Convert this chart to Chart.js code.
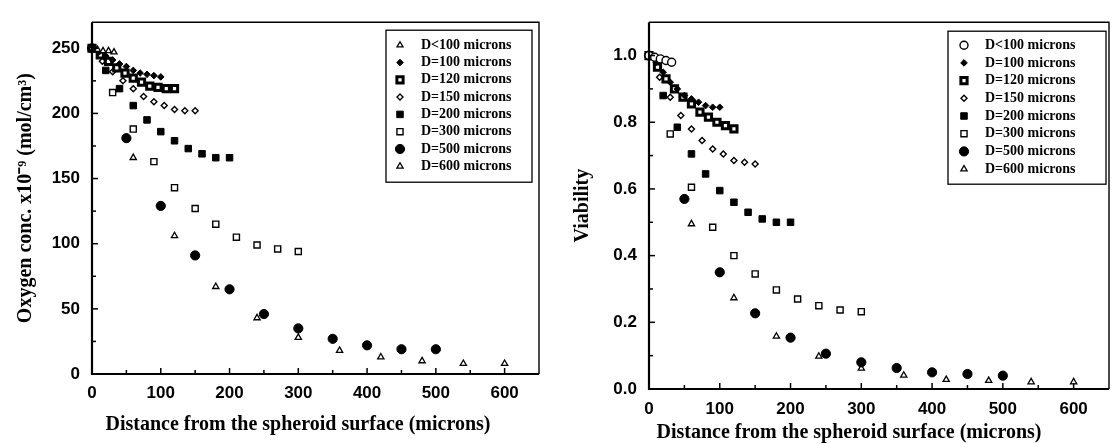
<!DOCTYPE html>
<html>
<head>
<meta charset="utf-8">
<script src="https://cdn.jsdelivr.net/npm/chart.js@4.4.1/dist/chart.umd.min.js"></script>
<style>
body{margin:0;background:#fff;}
#wrap{position:relative;width:1119px;height:443px;overflow:hidden;}
#left{position:absolute;left:0;top:0;}
#right{position:absolute;left:560px;top:0;}
</style>
</head>
<body>
<div id="wrap">
<canvas id="left" width="560" height="443"></canvas>
<canvas id="right" width="559" height="443"></canvas>
</div>
<script>
'use strict';
// legend names
var labels = ['D<100 microns', 'D=100 microns', 'D=120 microns', 'D=150 microns',
  'D=200 microns', 'D=300 microns', 'D=500 microns', 'D=600 microns'];

// distances from the surface (microns)
var xLt100 = [0, 8, 16, 24, 32];
var x100 = [0, 10, 20, 30, 40, 50, 60, 70, 80, 90, 100];
var x120 = [0, 12, 24, 36, 48, 60, 72, 84, 96, 108, 120];
var x150 = [0, 15, 30, 45, 60, 75, 90, 105, 120, 135, 150];
var x200 = [0, 20, 40, 60, 80, 100, 120, 140, 160, 180, 200];
var x300 = [0, 30, 60, 90, 120, 150, 180, 210, 240, 270, 300];
var x500 = [0, 50, 100, 150, 200, 250, 300, 350, 400, 450, 500];
var x600 = [0, 60, 120, 180, 240, 300, 360, 420, 480, 540, 600];

// oxygen conc. x10^-9 mol/cm3
var oxyLt100 = [250, 249, 248, 248, 247];
var oxy100 = [250, 247, 244, 241, 238, 236, 233, 231, 230, 229, 228];
var oxy120 = [250, 245, 240, 235, 231, 227, 224, 221, 220, 219, 219];
var oxy150 = [250, 240, 232, 225, 219, 213, 209, 206, 203, 202, 202];
var oxy200 = [250, 233, 219, 206, 195, 186, 179, 173, 169, 166, 166];
var oxy300 = [250, 216, 188, 163, 143, 127, 115, 105, 99, 96, 94];
var oxy500 = [250, 181, 129, 91, 65, 46, 35, 27, 22, 19, 19];
var oxy600 = [250, 166, 106, 67, 43, 28, 18, 13, 10, 8, 8];

// viability
var viaLt100 = [1.0, 0.995, 0.99, 0.985, 0.98];
var via100 = [1.0, 0.98, 0.95, 0.92, 0.90, 0.88, 0.87, 0.86, 0.85, 0.845, 0.845];
var via120 = [1.0, 0.965, 0.93, 0.90, 0.875, 0.855, 0.83, 0.815, 0.80, 0.79, 0.78];
var via150 = [1.0, 0.935, 0.875, 0.82, 0.78, 0.745, 0.72, 0.705, 0.685, 0.68, 0.675];
var via200 = [1.0, 0.88, 0.785, 0.705, 0.645, 0.595, 0.56, 0.53, 0.51, 0.50, 0.50];
var via300 = [1.0, 0.765, 0.605, 0.485, 0.40, 0.345, 0.297, 0.27, 0.25, 0.237, 0.232];
var via500 = [1.0, 0.57, 0.35, 0.227, 0.154, 0.106, 0.08, 0.063, 0.05, 0.045, 0.04];
var via600 = [1.0, 0.495, 0.273, 0.158, 0.098, 0.062, 0.041, 0.028, 0.025, 0.021, 0.021];

var xLists = [xLt100, x100, x120, x150, x200, x300, x500, x600];

// marker look for each series
var marks = [
  {style: 'triangle', r: 3.5, fill: '#fff', bw: 1.3},
  {style: 'rectRot', r: 3.3, fill: '#000', bw: 1},
  {style: 'rect', r: 4.4, fill: '#fff', bw: 3},
  {style: 'rectRot', r: 3, fill: '#fff', bw: 1.4},
  {style: 'rect', r: 4.6, fill: '#000', bw: 1},
  {style: 'rect', r: 4.3, fill: '#fff', bw: 1.4},
  {style: 'circle', r: 4.6, fill: '#000', bw: 1},
  {style: 'triangle', r: 3.6, fill: '#fff', bw: 1.3}
];

function makeSets(yLists, firstMark) {
  var sets = [];
  for (var i = 0; i < yLists.length; i++) {
    var m = (i === 0 && firstMark) ? firstMark : marks[i];
    var pts = [];
    for (var j = 0; j < yLists[i].length; j++) {
      pts.push({x: xLists[i][j], y: yLists[i][j]});
    }
    sets.push({
      label: labels[i],
      data: pts,
      showLine: false,
      pointStyle: m.style,
      pointRadius: m.r,
      pointBackgroundColor: m.fill,
      pointBorderColor: '#000',
      pointBorderWidth: m.bw,
      clip: false
    });
  }
  return sets;
}

var tickFont = {family: "'Liberation Sans', Arial, sans-serif", size: 17, weight: 'bold'};
var serif = "'Liberation Serif', 'Times New Roman', serif";

// frame, inward ticks and the boxed legend
var framePlugin = {
  id: 'frame',
  afterDraw: function(chart, args, opts) {
    var ctx = chart.ctx;
    var a = chart.chartArea;
    var xs = chart.scales.x, ys = chart.scales.y;
    ctx.save();
    ctx.strokeStyle = '#000';
    ctx.lineWidth = 1.5;
    xs.ticks.forEach(function(t) {
      if (t.value <= xs.min || t.value >= xs.max) return;
      var px = xs.getPixelForValue(t.value);
      var len = t.label !== '' ? 6 : 4;
      ctx.beginPath(); ctx.moveTo(px, a.bottom); ctx.lineTo(px, a.bottom - len); ctx.stroke();
    });
    ys.ticks.forEach(function(t) {
      if (t.value <= ys.min || t.value >= ys.max) return;
      var py = ys.getPixelForValue(t.value);
      var len = t.label !== '' ? 6 : 4;
      ctx.beginPath(); ctx.moveTo(a.left, py); ctx.lineTo(a.left + len, py); ctx.stroke();
    });
    ctx.lineWidth = 1.4;
    ctx.beginPath();
    ctx.moveTo(a.left, a.top); ctx.lineTo(a.right, a.top); ctx.lineTo(a.right, a.bottom);
    ctx.stroke();
    ctx.lineWidth = 2.2;
    ctx.beginPath();
    ctx.moveTo(a.left, a.top); ctx.lineTo(a.left, a.bottom); ctx.lineTo(a.right, a.bottom);
    ctx.stroke();

    var bx = a.right - opts.right - opts.w;
    var by = a.top + opts.top;
    ctx.fillStyle = '#fff';
    ctx.fillRect(bx, by, opts.w, opts.h);
    ctx.lineWidth = 1.3;
    ctx.strokeRect(bx, by, opts.w, opts.h);
    ctx.font = 'bold ' + opts.size + 'px ' + serif;
    ctx.textBaseline = 'middle';
    ctx.textAlign = 'left';
    chart.data.datasets.forEach(function(ds, i) {
      var y = by + opts.first + i * opts.gap;
      ctx.fillStyle = ds.pointBackgroundColor;
      ctx.strokeStyle = '#000';
      ctx.lineWidth = ds.pointBorderWidth;
      Chart.helpers.drawPoint(ctx, {pointStyle: ds.pointStyle, radius: ds.pointRadius, rotation: 0,
        borderWidth: ds.pointBorderWidth}, bx + opts.symX, y);
      ctx.fillStyle = '#000';
      ctx.fillText(ds.label, bx + opts.textX, y);
    });
    ctx.restore();
  }
};

function makeChart(id, sets, cfg) {
  return new Chart(document.getElementById(id), {
    type: 'scatter',
    data: {datasets: sets},
    plugins: [framePlugin],
    options: {
      responsive: false,
      animation: false,
      layout: {padding: {left: 0, right: cfg.padRight, top: cfg.padTop, bottom: 0}},
      plugins: {legend: {display: false}, tooltip: {enabled: false}, frame: cfg.legend},
      scales: {
        x: {
          type: 'linear', min: 0, max: 650,
          grid: {display: false, drawTicks: false},
          border: {display: false},
          ticks: {
            stepSize: 50, autoSkip: false, maxRotation: 0, padding: cfg.xPad,
            color: '#000', font: tickFont,
            callback: function(v) { return (v % 100 === 0 && v < 650) ? v : ''; }
          },
          title: {display: true, text: cfg.xTitle, color: '#000',
            font: {family: serif, size: 20, weight: 'bold', lineHeight: 1},
            padding: {top: 0, bottom: cfg.xTitlePad}},
          afterFit: function(s) { s.height = cfg.xHeight; }
        },
        y: {
          type: 'linear', min: 0, max: cfg.yMax,
          grid: {display: false, drawTicks: false},
          border: {display: false},
          ticks: {
            stepSize: cfg.yStep, autoSkip: false, padding: 12,
            color: '#000', font: tickFont,
            callback: cfg.yLabel
          },
          title: {display: true, text: cfg.yTitle, color: '#000',
            font: {family: serif, size: 20, weight: 'bold', lineHeight: 1},
            padding: {top: cfg.yTitlePad, bottom: 0}},
          afterFit: function(s) { s.width = cfg.yWidth; }
        }
      }
    }
  });
}

makeChart('left', makeSets([oxyLt100, oxy100, oxy120, oxy150, oxy200, oxy300, oxy500, oxy600]), {
  padRight: 21, padTop: 10, xPad: 9, xHeight: 69, xTitlePad: 8, yWidth: 92, yTitlePad: 16,
  yMax: 270, yStep: 25,
  yLabel: function(v) { return (v % 50 === 0 && v <= 250) ? v : ''; },
  xTitle: 'Distance from the spheroid surface (microns)       ',
  yTitle: 'Oxygen conc. x10\u207B\u2079 (mol/cm\u00B3)',
  legend: {right: 7, top: 8, w: 146, h: 152, first: 15, gap: 17.3, symX: 14, textX: 35, size: 14}
});

makeChart('right', makeSets([viaLt100, via100, via120, via150, via200, via300, via500, via600],
  {style: 'circle', r: 4, fill: '#fff', bw: 1.4}), {
  padRight: 1, padTop: 22, xPad: 10, xHeight: 54, xTitlePad: 0, yWidth: 89, yTitlePad: 13,
  yMax: 1.1, yStep: 0.1,
  yLabel: function(v) { var k = Math.round(v * 10); return (k % 2 === 0 && k <= 10) ? (k / 10).toFixed(1) : ''; },
  xTitle: 'Distance from the spheroid surface (microns)            ',
  yTitle: 'Viability',
  legend: {right: 3, top: 9, w: 158, h: 153, first: 14, gap: 17.7, symX: 16, textX: 37, size: 14}
});
</script>
</body>
</html>
